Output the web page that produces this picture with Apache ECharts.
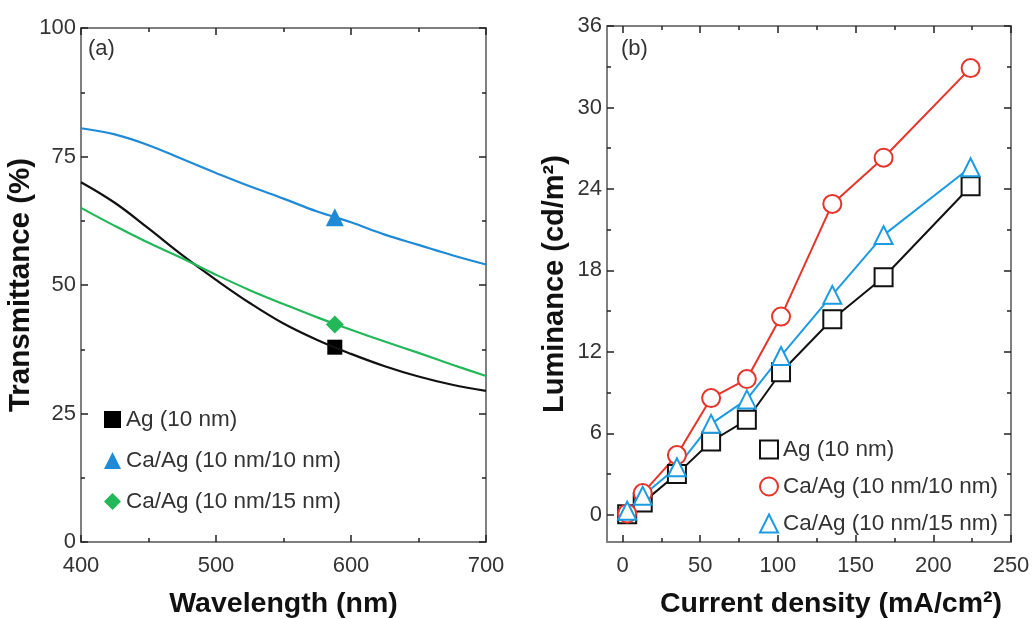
<!DOCTYPE html>
<html>
<head>
<meta charset="utf-8">
<title>Transmittance and luminance</title>
<script src="https://cdn.jsdelivr.net/npm/echarts/dist/echarts.min.js"></script>
<style>
  html, body { margin: 0; padding: 0; background: #fff; }
  #chart { width: 1035px; height: 619px; }
</style>
</head>
<body>
<div id="chart"></div>
<script>
// (a) transmittance curves, every 25 nm
var wavelength = [400, 425, 450, 475, 500, 525, 550, 575, 600, 625, 650, 675, 700];
var transAg = [70, 66, 61, 55.8, 51, 46.5, 42.5, 39.3, 36.6, 34.2, 32.2, 30.6, 29.4];
var transCaAg10 = [80.5, 79.3, 77.2, 74.5, 71.8, 69.2, 66.8, 64.3, 62.2, 59.8, 57.8, 55.8, 54];
var transCaAg15 = [65, 61.5, 58.2, 55.2, 52, 49, 46.3, 43.7, 41.3, 39, 36.8, 34.5, 32.3];
// marked points at 588 nm
var markWavelength = 588;
var markAg = 37.9;
var markCaAg10 = 63.2;
var markCaAg15 = 42.3;

// (b) luminance vs current density
var currentDensity = [3, 13, 35, 57, 80, 102, 135, 168, 224];
var lumAg = [0.05, 0.9, 3.0, 5.4, 7.0, 10.5, 14.4, 17.5, 24.2];
var lumCaAg10 = [0.1, 1.6, 4.4, 8.6, 10.0, 14.6, 22.9, 26.3, 32.9];
var lumCaAg15 = [0.3, 1.4, 3.5, 6.7, 8.5, 11.7, 16.2, 20.6, 25.6];

// tick values for panel (b)
var xTicksB = [0, 50, 100, 150, 200, 250];
var xMinorB = [25, 75, 125, 175, 225];
var yTicksB = [0, 6, 12, 18, 24, 30, 36];
var yMinorB = [3, 9, 15, 21, 27, 33];

var legendLabels = {
    aAg: 'Ag (10 nm)', aCa10: 'Ca/Ag (10 nm/10 nm)', aCa15: 'Ca/Ag (10 nm/15 nm)',
    bAg: 'Ag (10 nm)', bCa10: 'Ca/Ag (10 nm/10 nm)', bCa15: 'Ca/Ag (10 nm/15 nm)'
};

var font = '"Liberation Sans", Arial, sans-serif';
var frameGray = '#7f7f7f';
var labelColor = '#333';
var blueA = '#1f8ad6', greenA = '#22b85a';
var redB = '#e5352b', blueB = '#1c9be0';

function zip(xs, ys) {
    return xs.map(function (x, i) { return [x, ys[i]]; });
}

// one side of the box: axis line + inward ticks, labels only when asked
function sideAxis(grid, pos, min, max, o) {
    o = o || {};
    var ax = {
        type: 'value', gridIndex: grid, position: pos, min: min, max: max,
        splitLine: { show: false },
        axisLine: { show: o.line !== false, onZero: false, lineStyle: { color: frameGray, width: 2 } },
        axisTick: { show: true, inside: true, length: o.tickLen || 7, lineStyle: { color: '#222', width: 1.5 } },
        axisLabel: { show: false }
    };
    if (o.interval) ax.interval = o.interval;
    if (o.minor) ax.minorTick = { show: true, splitNumber: 2, length: 4, lineStyle: { color: '#222', width: 1.5 } };
    if (o.ticks) ax.axisTick.customValues = o.ticks;
    if (o.labels) {
        ax.axisLabel = { show: true, fontSize: 22, color: labelColor, fontFamily: font, margin: o.margin || 6 };
        if (o.labelValues) ax.axisLabel.customValues = o.labelValues;
    }
    if (o.name) {
        ax.name = o.name;
        ax.nameLocation = 'middle';
        ax.nameGap = o.nameGap;
        ax.nameTextStyle = { fontSize: o.nameSize || 28.5, fontWeight: 'bold', color: '#111', fontFamily: font,
                             padding: o.namePad || 0 };
    }
    return ax;
}

var option = {
    backgroundColor: '#fff',
    animation: false,
    grid: [
        { left: 81, top: 28, width: 405, height: 514, outerBoundsMode: 'none' },
        { left: 607, top: 26, width: 404, height: 516, outerBoundsMode: 'none' }
    ],
    xAxis: [
        sideAxis(0, 'bottom', 400, 700, { interval: 100, minor: true, labels: true, margin: 13, name: 'Wavelength (nm)', nameGap: 48 }),
        sideAxis(0, 'top', 400, 700, { interval: 100, minor: true }),
        sideAxis(1, 'bottom', -10, 250, { ticks: xTicksB, labels: true, labelValues: xTicksB, margin: 13, name: 'Current density (mA/cm²)', nameGap: 48, namePad: [0, 0, 0, 44] }),
        sideAxis(1, 'bottom', -10, 250, { ticks: xMinorB, tickLen: 4, line: false }),
        sideAxis(1, 'top', -10, 250, { ticks: xTicksB }),
        sideAxis(1, 'top', -10, 250, { ticks: xMinorB, tickLen: 4, line: false })
    ],
    yAxis: [
        sideAxis(0, 'left', 0, 100, { interval: 25, minor: true, labels: true, margin: 5, name: 'Transmittance (%)', nameGap: 42, nameSize: 29.5 }),
        sideAxis(0, 'right', 0, 100, { interval: 25, minor: true }),
        sideAxis(1, 'left', -2, 36, { ticks: yTicksB, labels: true, labelValues: yTicksB, margin: 5, name: 'Luminance (cd/m²)', nameGap: 38, nameSize: 29 }),
        sideAxis(1, 'left', -2, 36, { ticks: yMinorB, tickLen: 4, line: false }),
        sideAxis(1, 'right', -2, 36, { ticks: yTicksB }),
        sideAxis(1, 'right', -2, 36, { ticks: yMinorB, tickLen: 4, line: false })
    ],
    legend: [
        {
            orient: 'vertical', left: 99, top: 403, itemGap: 18,
            itemWidth: 17, itemHeight: 17,
            formatter: function (n) { return legendLabels[n]; },
            textStyle: { fontSize: 22.5, color: labelColor, fontFamily: font },
            data: [
                { name: 'aAg', icon: 'rect' },
                { name: 'aCa10', icon: 'triangle' },
                { name: 'aCa15', icon: 'diamond' }
            ]
        },
        {
            orient: 'vertical', left: 754, top: 433, itemGap: 14,
            itemWidth: 18, itemHeight: 18,
            formatter: function (n) { return legendLabels[n]; },
            textStyle: { fontSize: 22.5, color: labelColor, fontFamily: font },
            data: [
                { name: 'bAg', icon: 'rect', itemStyle: { color: '#fff', borderColor: '#111', borderWidth: 2 } },
                { name: 'bCa10', icon: 'circle', itemStyle: { color: '#fff', borderColor: redB, borderWidth: 2 } },
                { name: 'bCa15', icon: 'triangle', itemStyle: { color: '#fff', borderColor: blueB, borderWidth: 2 } }
            ]
        }
    ],
    graphic: [
        { type: 'text', left: 88, top: 38, style: { text: '(a)', fontSize: 22, fill: labelColor, fontFamily: font } },
        { type: 'text', left: 621, top: 38, style: { text: '(b)', fontSize: 22, fill: labelColor, fontFamily: font } }
    ],
    series: [
        // (a) curves
        { name: 'curveAg', type: 'line', xAxisIndex: 0, yAxisIndex: 0, data: zip(wavelength, transAg),
          smooth: 0.4, showSymbol: false, lineStyle: { color: '#111', width: 2.2 } },
        { name: 'curveCa10', type: 'line', xAxisIndex: 0, yAxisIndex: 0, data: zip(wavelength, transCaAg10),
          smooth: 0.4, showSymbol: false, lineStyle: { color: blueA, width: 2.2 } },
        { name: 'curveCa15', type: 'line', xAxisIndex: 0, yAxisIndex: 0, data: zip(wavelength, transCaAg15),
          smooth: 0.4, showSymbol: false, lineStyle: { color: greenA, width: 2.2 } },
        // (a) markers
        { name: 'aAg', type: 'scatter', xAxisIndex: 0, yAxisIndex: 0, data: [[markWavelength, markAg]],
          symbol: 'rect', symbolSize: 15, itemStyle: { color: '#000', opacity: 1 } },
        { name: 'aCa10', type: 'scatter', xAxisIndex: 0, yAxisIndex: 0, data: [[markWavelength, markCaAg10]],
          symbol: 'triangle', symbolSize: 18, itemStyle: { color: blueA, opacity: 1 } },
        { name: 'aCa15', type: 'scatter', xAxisIndex: 0, yAxisIndex: 0, data: [[markWavelength, markCaAg15]],
          symbol: 'diamond', symbolSize: 18, itemStyle: { color: greenA, opacity: 1 } },
        // (b) luminance
        { name: 'bAg', type: 'line', xAxisIndex: 2, yAxisIndex: 2, data: zip(currentDensity, lumAg),
          symbol: 'rect', symbolSize: 18, lineStyle: { color: '#111', width: 2 },
          itemStyle: { color: '#fff', borderColor: '#111', borderWidth: 2 } },
        { name: 'bCa10', type: 'line', xAxisIndex: 2, yAxisIndex: 2, data: zip(currentDensity, lumCaAg10),
          symbol: 'circle', symbolSize: 18, lineStyle: { color: redB, width: 2 },
          itemStyle: { color: '#fff', borderColor: redB, borderWidth: 2 } },
        { name: 'bCa15', type: 'line', xAxisIndex: 2, yAxisIndex: 2, data: zip(currentDensity, lumCaAg15),
          symbol: 'triangle', symbolSize: 18, lineStyle: { color: blueB, width: 2 },
          itemStyle: { color: '#fff', borderColor: blueB, borderWidth: 2 } }
    ]
};

var chart = echarts.init(document.getElementById('chart'));
chart.setOption(option);
</script>
</body>
</html>
